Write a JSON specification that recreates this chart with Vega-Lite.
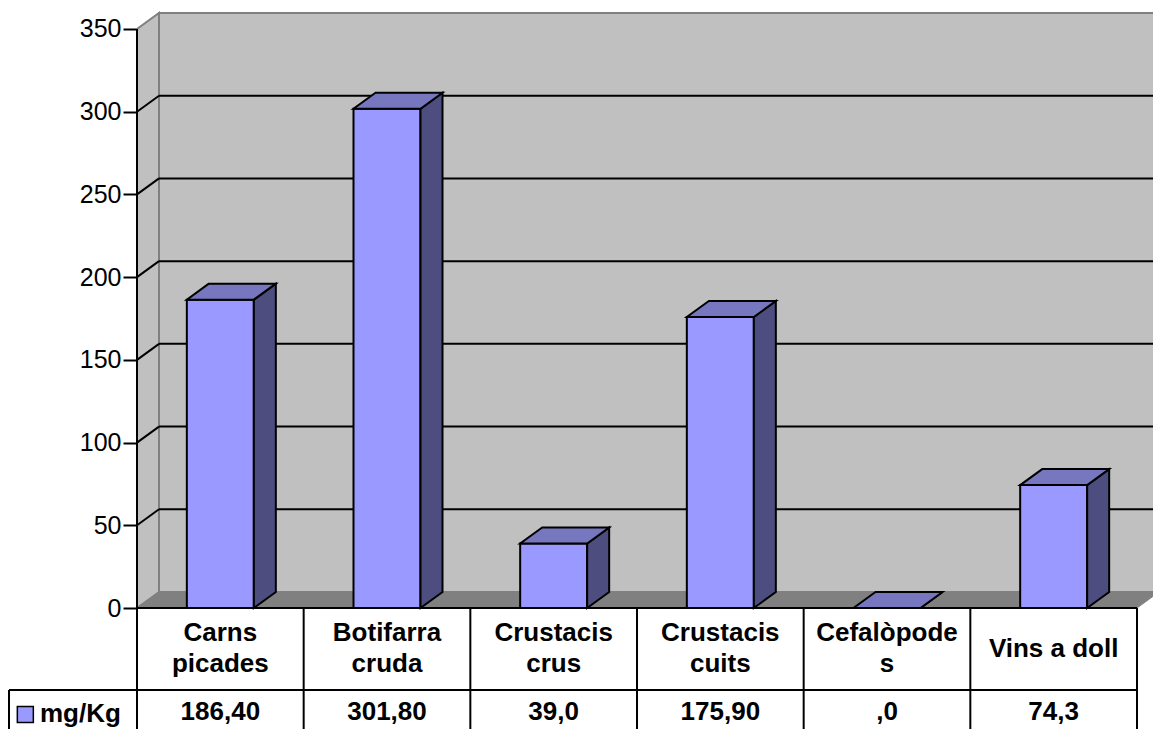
{
  "$schema": "https://vega.github.io/schema/vega-lite/v6.json",
  "width": 1153,
  "height": 729,
  "autosize": "none",
  "padding": 0,
  "background": "white",
  "config": {
    "view": {"stroke": null},
    "font": "Liberation Sans",
    "axisY": {"offset": -137, "domain": false, "grid": false, "ticks": true, "tickSize": 14, "tickWidth": 2, "tickColor": "black",
      "labelFontSize": 25, "labelColor": "black", "labelFont": "Liberation Sans", "labelPadding": 2,
      "labelFlush": false, "labelOverlap": false, "zindex": 1}
  },
  "datasets": {
    "foods": [
      {"cat": "Carns picades", "label": "Carns\npicades", "value": 186.4, "shown": "186,40"},
      {"cat": "Botifarra cruda", "label": "Botifarra\ncruda", "value": 301.8, "shown": "301,80"},
      {"cat": "Crustacis crus", "label": "Crustacis\ncrus", "value": 39.0, "shown": "39,0"},
      {"cat": "Crustacis cuits", "label": "Crustacis\ncuits", "value": 175.9, "shown": "175,90"},
      {"cat": "Cefalòpodes", "label": "Cefalòpode\ns", "value": 0, "shown": ",0"},
      {"cat": "Vins a doll", "label": "Vins a doll", "value": 74.3, "shown": "74,3"}
    ],
    "grid": [{"v": 50}, {"v": 100}, {"v": 150}, {"v": 200}, {"v": 250}, {"v": 300}],
    "pair": [{"k": 0}, {"k": 1}],
    "one": [{"series": "mg/Kg"}]
  },
  "layer": [
    {
      "data": {"name": "one"},
      "mark": {"type": "rect", "fill": "#c0c0c0", "stroke": "#808080", "strokeWidth": 2},
      "encoding": {
        "x": {"datum": 0.132, "type": "quantitative", "scale": {"domain": [-0.822, 6.096], "nice": false, "zero": false}, "axis": null},
        "x2": {"datum": 6.3},
        "y": {"datum": 9.67, "type": "quantitative", "title": null, "scale": {"domain": [-73.14, 367.53], "nice": false, "zero": false}, "axis": {"values": [0, 50, 100, 150, 200, 250, 300, 350], "title": null}},
        "y2": {"datum": 359.67}
      }
    },
    {
      "data": {"name": "pair"},
      "transform": [
        {"calculate": "datum.k * 0.132", "as": "wx"},
        {"calculate": "datum.k * 9.67", "as": "wy"},
        {"calculate": "350 + datum.k * 9.67", "as": "wy2"}
      ],
      "mark": {"type": "area", "orient": "vertical", "fill": "#c0c0c0", "stroke": "#808080", "strokeWidth": 2},
      "encoding": {
        "x": {"field": "wx", "type": "quantitative", "scale": {"domain": [-0.822, 6.096], "nice": false, "zero": false}, "axis": null},
        "y": {"field": "wy", "type": "quantitative", "title": null, "scale": {"domain": [-73.14, 367.53], "nice": false, "zero": false}, "axis": {"values": [0, 50, 100, 150, 200, 250, 300, 350], "title": null}},
        "y2": {"field": "wy2"}
      }
    },
    {
      "data": {"name": "pair"},
      "transform": [
        {"calculate": "datum.k * 9.67", "as": "fy"},
        {"calculate": "datum.k * 0.132", "as": "fx"},
        {"calculate": "6 + datum.k * 0.132", "as": "fx2"}
      ],
      "mark": {"type": "area", "orient": "horizontal", "fill": "#808080", "stroke": "#808080", "strokeWidth": 1},
      "encoding": {
        "y": {"field": "fy", "type": "quantitative", "title": null, "scale": {"domain": [-73.14, 367.53], "nice": false, "zero": false}, "axis": {"values": [0, 50, 100, 150, 200, 250, 300, 350], "title": null}},
        "x": {"field": "fx", "type": "quantitative", "scale": {"domain": [-0.822, 6.096], "nice": false, "zero": false}, "axis": null},
        "x2": {"field": "fx2"}
      }
    },
    {
      "data": {"name": "grid"},
      "transform": [{"calculate": "datum.v + 9.67", "as": "gy"}],
      "mark": {"type": "rule", "color": "black", "strokeWidth": 2},
      "encoding": {
        "x": {"datum": 0.132, "type": "quantitative", "scale": {"domain": [-0.822, 6.096], "nice": false, "zero": false}, "axis": null},
        "x2": {"datum": 6.3},
        "y": {"field": "gy", "type": "quantitative", "title": null, "scale": {"domain": [-73.14, 367.53], "nice": false, "zero": false}, "axis": {"values": [0, 50, 100, 150, 200, 250, 300, 350], "title": null}}
      }
    },
    {
      "data": {"name": "grid"},
      "transform": [
        {"calculate": "datum.v + 9.67", "as": "gy2"},
        {"calculate": "0", "as": "gx0"},
        {"calculate": "0.132", "as": "gx1"}
      ],
      "mark": {"type": "rule", "color": "black", "strokeWidth": 2},
      "encoding": {
        "x": {"field": "gx0", "type": "quantitative", "scale": {"domain": [-0.822, 6.096], "nice": false, "zero": false}, "axis": null},
        "x2": {"field": "gx1"},
        "y": {"field": "v", "type": "quantitative", "title": null, "scale": {"domain": [-73.14, 367.53], "nice": false, "zero": false}, "axis": {"values": [0, 50, 100, 150, 200, 250, 300, 350], "title": null}},
        "y2": {"field": "gy2"}
      }
    },
    {
      "data": {"name": "one"},
      "transform": [
        {"calculate": "0", "as": "ax"},
        {"calculate": "0", "as": "ay0"},
        {"calculate": "350", "as": "ay1"}
      ],
      "mark": {"type": "rule", "color": "black", "strokeWidth": 2},
      "encoding": {
        "x": {"field": "ax", "type": "quantitative", "scale": {"domain": [-0.822, 6.096], "nice": false, "zero": false}, "axis": null},
        "y": {"field": "ay0", "type": "quantitative", "title": null, "scale": {"domain": [-73.14, 367.53], "nice": false, "zero": false}, "axis": {"values": [0, 50, 100, 150, 200, 250, 300, 350], "title": null}},
        "y2": {"field": "ay1"}
      }
    },
    {
      "data": {"name": "foods"},
      "transform": [
        {"window": [{"op": "row_number", "as": "idx"}]},
        {"calculate": "datum.idx - 0.701", "as": "xl"},
        {"calculate": "datum.idx - 0.299", "as": "xr"},
        {"calculate": "0", "as": "base"}
      ],
      "mark": {"type": "rect", "fill": "#9999ff", "stroke": "black", "strokeWidth": 2},
      "encoding": {
        "x": {"field": "xl", "type": "quantitative", "scale": {"domain": [-0.822, 6.096], "nice": false, "zero": false}, "axis": null},
        "x2": {"field": "xr"},
        "y": {"field": "value", "type": "quantitative", "title": null, "scale": {"domain": [-73.14, 367.53], "nice": false, "zero": false}, "axis": {"values": [0, 50, 100, 150, 200, 250, 300, 350], "title": null}},
        "y2": {"field": "base"}
      }
    },
    {
      "data": {"name": "foods"},
      "transform": [
        {"window": [{"op": "row_number", "as": "idx"}]},
        {"calculate": "datum.idx - 0.299", "as": "xr"},
        {"calculate": "[0, 1]", "as": "ks"},
        {"flatten": ["ks"], "as": ["k"]},
        {"calculate": "datum.xr + datum.k * 0.132", "as": "sx"},
        {"calculate": "datum.k * 9.67", "as": "sy"},
        {"calculate": "datum.value + datum.k * 9.67", "as": "sy2"}
      ],
      "mark": {"type": "area", "orient": "vertical", "fill": "#4d4d80", "stroke": "black", "strokeWidth": 2},
      "encoding": {
        "x": {"field": "sx", "type": "quantitative", "scale": {"domain": [-0.822, 6.096], "nice": false, "zero": false}, "axis": null},
        "y": {"field": "sy", "type": "quantitative", "title": null, "scale": {"domain": [-73.14, 367.53], "nice": false, "zero": false}, "axis": {"values": [0, 50, 100, 150, 200, 250, 300, 350], "title": null}},
        "y2": {"field": "sy2"},
        "detail": {"field": "cat", "type": "nominal"}
      }
    },
    {
      "data": {"name": "foods"},
      "transform": [
        {"window": [{"op": "row_number", "as": "idx"}]},
        {"calculate": "datum.idx - 0.701", "as": "xl"},
        {"calculate": "datum.idx - 0.299", "as": "xr"},
        {"calculate": "[0, 1]", "as": "ks"},
        {"flatten": ["ks"], "as": ["k"]},
        {"calculate": "datum.value + datum.k * 9.67", "as": "ty"},
        {"calculate": "datum.xl + datum.k * 0.132", "as": "tx"},
        {"calculate": "datum.xr + datum.k * 0.132", "as": "tx2"}
      ],
      "mark": {"type": "area", "orient": "horizontal", "fill": "#7777c0", "stroke": "black", "strokeWidth": 2},
      "encoding": {
        "y": {"field": "ty", "type": "quantitative", "title": null, "scale": {"domain": [-73.14, 367.53], "nice": false, "zero": false}, "axis": {"values": [0, 50, 100, 150, 200, 250, 300, 350], "title": null}},
        "x": {"field": "tx", "type": "quantitative", "scale": {"domain": [-0.822, 6.096], "nice": false, "zero": false}, "axis": null},
        "x2": {"field": "tx2"},
        "detail": {"field": "cat", "type": "nominal"}
      }
    },
    {
      "data": {"name": "one"},
      "transform": [
        {"calculate": "0", "as": "lx0"},
        {"calculate": "6", "as": "lx1"},
        {"calculate": "0", "as": "ly"}
      ],
      "mark": {"type": "rule", "color": "black", "strokeWidth": 2},
      "encoding": {
        "x": {"field": "lx0", "type": "quantitative", "scale": {"domain": [-0.822, 6.096], "nice": false, "zero": false}, "axis": null},
        "x2": {"field": "lx1"},
        "y": {"field": "ly", "type": "quantitative", "title": null, "scale": {"domain": [-73.14, 367.53], "nice": false, "zero": false}, "axis": {"values": [0, 50, 100, 150, 200, 250, 300, 350], "title": null}}
      }
    },
    {
      "data": {"name": "one"},
      "transform": [
        {"calculate": "-0.768", "as": "lx0"},
        {"calculate": "6", "as": "lx1"},
        {"calculate": "-49.57", "as": "ly"}
      ],
      "mark": {"type": "rule", "color": "black", "strokeWidth": 2},
      "encoding": {
        "x": {"field": "lx0", "type": "quantitative", "scale": {"domain": [-0.822, 6.096], "nice": false, "zero": false}, "axis": null},
        "x2": {"field": "lx1"},
        "y": {"field": "ly", "type": "quantitative", "title": null, "scale": {"domain": [-73.14, 367.53], "nice": false, "zero": false}, "axis": {"values": [0, 50, 100, 150, 200, 250, 300, 350], "title": null}}
      }
    },
    {
      "data": {"name": "one"},
      "transform": [
        {"calculate": "-0.768", "as": "lx"},
        {"calculate": "-49.57", "as": "ly0"},
        {"calculate": "-80", "as": "ly1"}
      ],
      "mark": {"type": "rule", "color": "black", "strokeWidth": 2},
      "encoding": {
        "x": {"field": "lx", "type": "quantitative", "scale": {"domain": [-0.822, 6.096], "nice": false, "zero": false}, "axis": null},
        "y": {"field": "ly0", "type": "quantitative", "title": null, "scale": {"domain": [-73.14, 367.53], "nice": false, "zero": false}, "axis": {"values": [0, 50, 100, 150, 200, 250, 300, 350], "title": null}},
        "y2": {"field": "ly1"}
      }
    },
    {
      "data": {"name": "one"},
      "transform": [
        {"calculate": "6", "as": "lx"},
        {"calculate": "0", "as": "ly0"},
        {"calculate": "-80", "as": "ly1"}
      ],
      "mark": {"type": "rule", "color": "black", "strokeWidth": 2},
      "encoding": {
        "x": {"field": "lx", "type": "quantitative", "scale": {"domain": [-0.822, 6.096], "nice": false, "zero": false}, "axis": null},
        "y": {"field": "ly0", "type": "quantitative", "title": null, "scale": {"domain": [-73.14, 367.53], "nice": false, "zero": false}, "axis": {"values": [0, 50, 100, 150, 200, 250, 300, 350], "title": null}},
        "y2": {"field": "ly1"}
      }
    },
    {
      "data": {"name": "foods"},
      "transform": [
        {"window": [{"op": "row_number", "as": "idx"}]},
        {"calculate": "datum.idx - 1", "as": "vx"},
        {"calculate": "0", "as": "vy0"},
        {"calculate": "-80", "as": "vy1"}
      ],
      "mark": {"type": "rule", "color": "black", "strokeWidth": 2},
      "encoding": {
        "x": {"field": "vx", "type": "quantitative", "scale": {"domain": [-0.822, 6.096], "nice": false, "zero": false}, "axis": null},
        "y": {"field": "vy0", "type": "quantitative", "title": null, "scale": {"domain": [-73.14, 367.53], "nice": false, "zero": false}, "axis": {"values": [0, 50, 100, 150, 200, 250, 300, 350], "title": null}},
        "y2": {"field": "vy1"}
      }
    },
    {
      "data": {"name": "foods"},
      "transform": [
        {"window": [{"op": "row_number", "as": "idx"}]},
        {"calculate": "datum.idx - 0.5", "as": "cx"},
        {"calculate": "indexof(datum.label, '\\n') >= 0 ? -15.4 : -24.48", "as": "cy"}
      ],
      "mark": {"type": "text", "font": "Liberation Sans", "fontSize": 26, "fontWeight": "bold", "color": "black", "align": "center", "baseline": "middle", "lineBreak": "\n", "lineHeight": 31},
      "encoding": {
        "x": {"field": "cx", "type": "quantitative", "scale": {"domain": [-0.822, 6.096], "nice": false, "zero": false}, "axis": null},
        "y": {"field": "cy", "type": "quantitative", "title": null, "scale": {"domain": [-73.14, 367.53], "nice": false, "zero": false}, "axis": {"values": [0, 50, 100, 150, 200, 250, 300, 350], "title": null}},
        "text": {"field": "label", "type": "nominal"}
      }
    },
    {
      "data": {"name": "foods"},
      "transform": [
        {"window": [{"op": "row_number", "as": "idx"}]},
        {"calculate": "datum.idx - 0.5", "as": "cx"},
        {"calculate": "-62.6", "as": "cy"}
      ],
      "mark": {"type": "text", "font": "Liberation Sans", "fontSize": 26, "fontWeight": "bold", "color": "black", "align": "center", "baseline": "middle"},
      "encoding": {
        "x": {"field": "cx", "type": "quantitative", "scale": {"domain": [-0.822, 6.096], "nice": false, "zero": false}, "axis": null},
        "y": {"field": "cy", "type": "quantitative", "title": null, "scale": {"domain": [-73.14, 367.53], "nice": false, "zero": false}, "axis": {"values": [0, 50, 100, 150, 200, 250, 300, 350], "title": null}},
        "text": {"field": "shown", "type": "nominal"}
      }
    },
    {
      "data": {"name": "one"},
      "transform": [
        {"calculate": "-0.67", "as": "sqx"},
        {"calculate": "-64.4", "as": "sqy"}
      ],
      "mark": {"type": "square", "filled": true, "fill": "#9999ff", "stroke": "black", "strokeWidth": 1.5, "size": 256, "opacity": 1},
      "encoding": {
        "x": {"field": "sqx", "type": "quantitative", "scale": {"domain": [-0.822, 6.096], "nice": false, "zero": false}, "axis": null},
        "y": {"field": "sqy", "type": "quantitative", "title": null, "scale": {"domain": [-73.14, 367.53], "nice": false, "zero": false}, "axis": {"values": [0, 50, 100, 150, 200, 250, 300, 350], "title": null}}
      }
    },
    {
      "data": {"name": "one"},
      "transform": [
        {"calculate": "-0.582", "as": "tx"},
        {"calculate": "-64.2", "as": "ty"}
      ],
      "mark": {"type": "text", "font": "Liberation Sans", "fontSize": 26, "fontWeight": "bold", "color": "black", "align": "left", "baseline": "middle"},
      "encoding": {
        "x": {"field": "tx", "type": "quantitative", "scale": {"domain": [-0.822, 6.096], "nice": false, "zero": false}, "axis": null},
        "y": {"field": "ty", "type": "quantitative", "title": null, "scale": {"domain": [-73.14, 367.53], "nice": false, "zero": false}, "axis": {"values": [0, 50, 100, 150, 200, 250, 300, 350], "title": null}},
        "text": {"field": "series", "type": "nominal"}
      }
    }
  ]
}
